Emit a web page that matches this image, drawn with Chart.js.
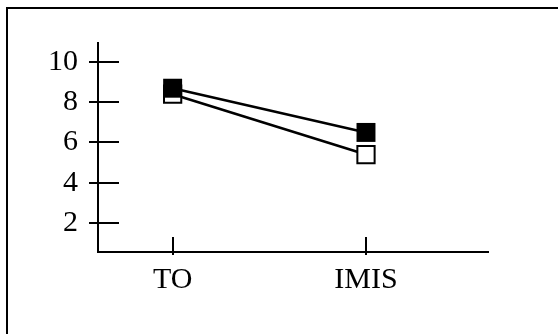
<!DOCTYPE html>
<html>
<head>
<meta charset="utf-8">
<script src="https://cdn.jsdelivr.net/npm/chart.js@4"></script>
<style>
  html, body { margin: 0; padding: 0; background: #fff; }
  #wrap { width: 558px; height: 334px; position: relative; }
</style>
</head>
<body>
<div id="wrap"><canvas id="c" width="558" height="334"></canvas></div>
<script>
const categories = ['TO', 'IMIS'];
const filledValues = [8.7, 6.5];
const openValues = [8.4, 5.4];
const yTicks = [2, 4, 6, 8, 10];

const FONT = { family: '"Liberation Serif", "Times New Roman", serif', size: 30 };

// frame + tick marks that cross the axes
const crossTicks = {
  id: 'crossTicks',
  afterDraw(chart) {
    const ctx = chart.ctx;
    const { x, y } = chart.scales;
    ctx.save();
    ctx.strokeStyle = '#000';
    ctx.lineWidth = 2;
    ctx.beginPath();
    ctx.moveTo(7, 334); ctx.lineTo(7, 8); ctx.lineTo(558, 8);
    ctx.stroke();
    ctx.beginPath();
    y.ticks.forEach(t => {
      const py = Math.round(y.getPixelForValue(t.value));
      ctx.moveTo(y.right - 9, py); ctx.lineTo(y.right + 21, py);
    });
    x.ticks.forEach(t => {
      const px = Math.round(x.getPixelForValue(t.value));
      ctx.moveTo(px, x.top - 15); ctx.lineTo(px, x.top + 3);
    });
    ctx.stroke();
    ctx.restore();
  }
};

new Chart(document.getElementById('c'), {
  type: 'line',
  data: {
    datasets: [
      {
        data: filledValues.map((v, i) => ({ x: i, y: v })),
        borderColor: '#000', borderWidth: 2.5,
        pointStyle: 'rect', pointRadius: 13.4,
        pointBackgroundColor: '#000', pointBorderColor: '#000', pointBorderWidth: 0
      },
      {
        data: openValues.map((v, i) => ({ x: i, y: v })),
        borderColor: '#000', borderWidth: 2.5,
        pointStyle: 'rect', pointRadius: 12.2,
        pointBackgroundColor: '#fff', pointBorderColor: '#000', pointBorderWidth: 2
      }
    ]
  },
  options: {
    responsive: false, animation: false,
    layout: { padding: { top: 43, right: 70, left: 0, bottom: 0 } },
    plugins: { legend: { display: false }, tooltip: { enabled: false } },
    scales: {
      x: {
        type: 'linear', min: -0.386, max: 1.631,
        afterBuildTicks: s => { s.ticks = categories.map((_, i) => ({ value: i })); },
        afterFit: s => { s.height = 82; },
        grid: { display: false, drawTicks: false },
        border: { display: true, color: '#000', width: 2 },
        ticks: { color: '#000', font: FONT, padding: 10, maxRotation: 0,
          callback: v => categories[v] }
      },
      y: {
        min: 0.55, max: 10.95,
        afterBuildTicks: s => { s.ticks = yTicks.map(v => ({ value: v })); },
        afterFit: s => { s.width = 98; },
        grid: { display: false, drawTicks: false },
        border: { display: true, color: '#000', width: 2 },
        ticks: { color: '#000', font: FONT, padding: 20 }
      }
    }
  },
  plugins: [crossTicks]
});
</script>
</body>
</html>
